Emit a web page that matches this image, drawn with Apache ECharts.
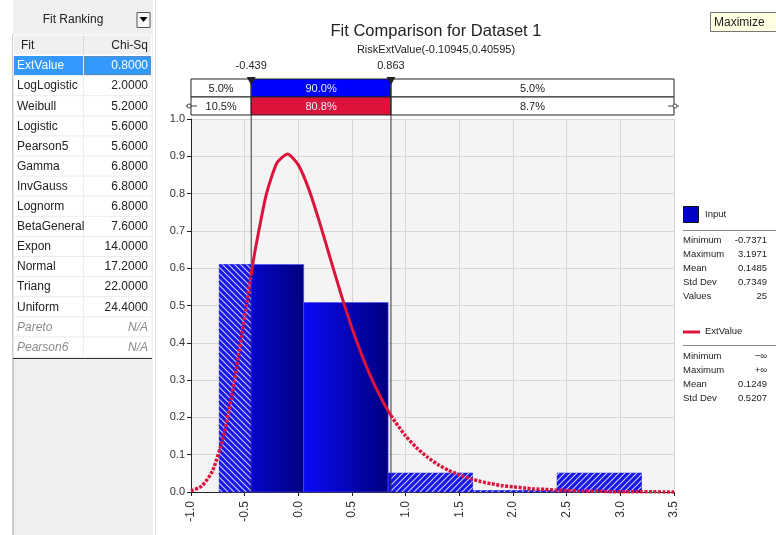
<!DOCTYPE html>
<html>
<head>
<meta charset="utf-8">
<script src="https://cdn.jsdelivr.net/npm/echarts@6/dist/echarts.min.js"></script>
<style>
html,body{margin:0;padding:0;background:#fff;}
#chart{width:776px;height:535px;}
</style>
</head>
<body>
<div id="chart"></div>
<script>
// fit ranking table
var fitNames = ['ExtValue','LogLogistic','Weibull','Logistic','Pearson5','Gamma','InvGauss','Lognorm','BetaGeneral','Expon','Normal','Triang','Uniform','Pareto','Pearson6'];
var fitChiSq = ['0.8000','2.0000','5.2000','5.6000','5.6000','6.8000','6.8000','6.8000','7.6000','14.0000','17.2000','22.0000','24.4000','N/A','N/A'];

// histogram of the input (density)
var binStart = [-0.7371, 0.0497, 0.8365, 1.6233, 2.4101];
var binEnd = [0.0497, 0.8365, 1.6233, 2.4101, 3.1971];
var binDensity = [0.610, 0.508, 0.051, 0.004, 0.051];

// fitted ExtValue curve
var curveX = [-1.0,-0.9,-0.8,-0.7,-0.6,-0.5,-0.439,-0.4,-0.3,-0.2,-0.1,0.0,0.1,0.2,0.3,0.4,0.5,0.6,0.7,0.8,0.863,
  0.9,1.0,1.1,1.2,1.3,1.4,1.5,1.6,1.7,1.8,1.9,2.0,2.1,2.2,2.3,2.4,2.5,2.6,2.7,2.8,2.9,3.0,3.1,3.2,3.3,3.4,3.5];
var curveY = [0.003,0.016,0.056,0.146,0.290,0.471,0.584,0.652,0.796,0.882,0.906,0.877,0.810,0.721,0.624,0.528,0.439,0.361,0.293,0.236,0.205,
  0.189,0.150,0.119,0.094,0.074,0.058,0.046,0.036,0.028,0.022,0.017,0.014,0.011,0.008,0.007,0.005,0.004,0.003,0.002,0.002,0.001,0.001,0.001,0.001,0.001,0.000,0.000];

// delimiters and the percentage band
var leftDelim = -0.439, rightDelim = 0.863;
var xMin = -1.0, xMax = 3.5, xStep = 0.5;
var yMin = 0, yMax = 1.0, yStep = 0.1;
var bandInput = ['5.0%','90.0%','5.0%'];
var bandFit = ['10.5%','80.8%','8.7%'];

// legend statistics
var inputStats = [['Minimum','-0.7371'],['Maximum','3.1971'],['Mean','0.1485'],['Std Dev','0.7349'],['Values','25']];
var fitStats = [['Minimum','\u2212\u221e'],['Maximum','+\u221e'],['Mean','0.1249'],['Std Dev','0.5207']];

var FONT = 'Liberation Sans';
var RED = '#dc143c';

// hatch patterns: "\\" for the left tail, "//" for the right tail
function makeHatch(back){
  var s = 6, c = document.createElement('canvas');
  c.width = s; c.height = s;
  var g = c.getContext('2d');
  g.fillStyle = '#1616e8';
  g.fillRect(0,0,s,s);
  g.strokeStyle = 'rgba(225,225,255,0.9)';
  g.lineWidth = 1.1;
  g.beginPath();
  if(back){
    g.moveTo(-1,-1); g.lineTo(s+1,s+1);
    g.moveTo(-1,s-1); g.lineTo(1,s+1);
    g.moveTo(s-1,-1); g.lineTo(s+1,1);
  }else{
    g.moveTo(-1,s+1); g.lineTo(s+1,-1);
    g.moveTo(-1,1); g.lineTo(1,-1);
    g.moveTo(s-1,s+1); g.lineTo(s+1,s-1);
  }
  g.stroke();
  return c;
}
var hatchBack = makeHatch(true);
var hatchFwd = makeHatch(false);

var binData = binStart.map(function(s, i){ return [s, binEnd[i], binDensity[i]]; });

function renderBin(params, api){
  var x0 = api.value(0), x1 = api.value(1), h = api.value(2);
  var p0 = api.coord([x0, h]), p1 = api.coord([x1, 0]);
  var kids = [{
    type:'rect',
    shape:{x:p0[0], y:p0[1], width:p1[0]-p0[0], height:p1[1]-p0[1]},
    style:{
      fill: new echarts.graphic.LinearGradient(0,0,1,0,[{offset:0,color:'#0a0af6'},{offset:1,color:'#00007e'}]),
      stroke:'#4a4aff', lineWidth:0.6
    }
  }];
  if(x0 < leftDelim){
    var q = api.coord([Math.min(x1, leftDelim), 0]);
    kids.push({type:'rect', shape:{x:p0[0], y:p0[1], width:q[0]-p0[0], height:p1[1]-p0[1]},
      style:{fill:{image:hatchBack, repeat:'repeat'}}});
  }
  if(x1 > rightDelim){
    var r = api.coord([Math.max(x0, rightDelim), 0]);
    kids.push({type:'rect', shape:{x:r[0], y:p0[1], width:p1[0]-r[0], height:p1[1]-p0[1]},
      style:{fill:{image:hatchFwd, repeat:'repeat'}}});
  }
  return {type:'group', children:kids};
}

// percentage band above the plot
var bandEdges = [xMin, leftDelim, rightDelim, xMax];
var bandData = [];
bandInput.forEach(function(t, i){ bandData.push([bandEdges[i], bandEdges[i+1], 0, i, t]); });
bandFit.forEach(function(t, i){ bandData.push([bandEdges[i], bandEdges[i+1], 1, i, t]); });

function renderBand(params, api){
  var x0 = api.coord([api.value(0), 1])[0];
  var x1 = api.coord([api.value(1), 1])[0];
  var top = api.coord([0, yMax])[1];
  var row = api.value(2), col = api.value(3);
  var y0 = row === 0 ? top - 40 : top - 22;
  var fill = '#fff', tcol = '#222';
  if(col === 1){ fill = row === 0 ? '#0000ff' : RED; tcol = '#ececff'; }
  var kids = [{
    type:'rect', shape:{x:x0, y:y0, width:x1-x0, height:18},
    style:{fill:fill, stroke:'#222', lineWidth:1}
  },{
    type:'text', style:{x:(x0+x1)/2, y:y0+9.5, text:bandData[params.dataIndex][4], fill:tcol,
      font:'11px "' + FONT + '"', textAlign:'center', textVerticalAlign:'middle'}
  }];
  if(row === 1 && col === 0){
    kids.push({type:'line', shape:{x1:x0-5, y1:y0+9, x2:x0+6, y2:y0+9}, style:{stroke:'#444', lineWidth:1}});
    kids.push({type:'circle', shape:{cx:x0-2, cy:y0+9, r:2}, style:{fill:'#fff', stroke:'#444', lineWidth:1}});
  }
  if(row === 1 && col === 2){
    kids.push({type:'line', shape:{x1:x1-6, y1:y0+9, x2:x1+5, y2:y0+9}, style:{stroke:'#444', lineWidth:1}});
    kids.push({type:'circle', shape:{cx:x1+1, cy:y0+9, r:2}, style:{fill:'#fff', stroke:'#444', lineWidth:1}});
  }
  return {type:'group', children:kids};
}

function renderDelim(params, api){
  var v = api.value(0);
  var x = api.coord([v, 0])[0];
  var bottom = api.coord([v, yMin])[1];
  var top = api.coord([v, yMax])[1] - 40;
  return {type:'group', children:[
    {type:'line', shape:{x1:x, y1:top, x2:x, y2:bottom}, style:{stroke:'#333', lineWidth:1}},
    {type:'polygon', shape:{points:[[x-4.5,top-2],[x+4.5,top-2],[x,top+6]]}, style:{fill:'#222'}},
    {type:'text', style:{x:x, y:top-13, text:v.toFixed(3), fill:'#222', font:'11px "' + FONT + '"',
      textAlign:'center', textVerticalAlign:'middle'}}
  ]};
}

// split the curve at the delimiters: dotted tails, solid middle
var leftTail = [], middle = [], rightTail = [];
curveX.forEach(function(x, i){
  var p = [x, curveY[i]];
  if(x <= leftDelim) leftTail.push(p);
  if(x >= leftDelim && x <= rightDelim) middle.push(p);
  if(x >= rightDelim) rightTail.push(p);
});

// left panel graphics
var graphics = [];
graphics.push({type:'rect', shape:{x:13, y:0, width:140, height:535}, style:{fill:'#f0f0f0'}, z:0});
graphics.push({type:'line', shape:{x1:13, y1:34, x2:13, y2:535}, style:{stroke:'#a0a0a0', lineWidth:1}});
graphics.push({type:'line', shape:{x1:155.5, y1:0, x2:155.5, y2:535}, style:{stroke:'#e4e4e4', lineWidth:1}});
graphics.push({type:'text', style:{x:73, y:20, text:'Fit Ranking', fill:'#222', font:'12px "' + FONT + '"', textAlign:'center', textVerticalAlign:'middle'}});
graphics.push({type:'rect', shape:{x:137, y:12.5, width:13, height:15}, style:{fill:'#fbfbfb', stroke:'#555', lineWidth:1}});
graphics.push({type:'polygon', shape:{points:[[139.5,17],[147.5,17],[143.5,22]]}, style:{fill:'#000'}});
graphics.push({type:'rect', shape:{x:13.5, y:35, width:138, height:322.5}, style:{fill:'#fff'}});
graphics.push({type:'rect', shape:{x:13.5, y:35, width:138, height:20}, style:{fill:'#f0f0f0', stroke:'#fff', lineWidth:1}});
graphics.push({type:'line', shape:{x1:83.5, y1:36, x2:83.5, y2:55}, style:{stroke:'#d8d8d8', lineWidth:1}});
graphics.push({type:'text', style:{x:21, y:46, text:'Fit', fill:'#222', font:'12px "' + FONT + '"', textVerticalAlign:'middle'}});
graphics.push({type:'text', style:{x:148, y:46, text:'Chi-Sq', fill:'#222', font:'12px "' + FONT + '"', textAlign:'right', textVerticalAlign:'middle'}});
fitNames.forEach(function(name, i){
  var y = 56 + i * 20.1;
  var na = fitChiSq[i] === 'N/A';
  var col = i === 0 ? '#fff' : (na ? '#8a8a8a' : '#222');
  var f = (na ? 'italic ' : '') + '12px "' + FONT + '"';
  if(i === 0){
    graphics.push({type:'rect', shape:{x:14, y:y, width:69, height:19}, style:{fill:'#3399ff'}});
    graphics.push({type:'rect', shape:{x:84.5, y:y+0.5, width:66, height:18}, style:{fill:'#3399ff', stroke:'#1a4a7a', lineWidth:1, lineDash:[1,1]}});
  }
  graphics.push({type:'line', shape:{x1:14, y1:y+19.6, x2:151, y2:y+19.6}, style:{stroke:'#ececec', lineWidth:1}});
  graphics.push({type:'line', shape:{x1:83.5, y1:y, x2:83.5, y2:y+19.6}, style:{stroke:'#ececec', lineWidth:1}});
  graphics.push({type:'text', style:{x:17, y:y+10, text:name, fill:col, font:f, textVerticalAlign:'middle'}});
  graphics.push({type:'text', style:{x:148, y:y+10, text:fitChiSq[i], fill:col, font:f, textAlign:'right', textVerticalAlign:'middle'}});
});
graphics.push({type:'line', shape:{x1:13, y1:358.5, x2:152, y2:358.5}, style:{stroke:'#333', lineWidth:1}});

// right legend
var LF = '9.5px "' + FONT + '"';
graphics.push({type:'rect', shape:{x:683.5, y:206.5, width:15, height:16}, style:{fill:'#0000c8', stroke:'#111', lineWidth:1}});
graphics.push({type:'text', style:{x:705, y:214.5, text:'Input', fill:'#222', font:LF, textVerticalAlign:'middle'}});
graphics.push({type:'line', shape:{x1:683, y1:230.5, x2:776, y2:230.5}, style:{stroke:'#888', lineWidth:1}});
inputStats.forEach(function(s, i){
  var y = 240 + i * 14.2;
  graphics.push({type:'text', style:{x:683, y:y, text:s[0], fill:'#222', font:LF, textVerticalAlign:'middle'}});
  graphics.push({type:'text', style:{x:767, y:y, text:s[1], fill:'#222', font:LF, textAlign:'right', textVerticalAlign:'middle'}});
});
graphics.push({type:'line', shape:{x1:683, y1:332, x2:700, y2:332}, style:{stroke:RED, lineWidth:3}});
graphics.push({type:'text', style:{x:705, y:331.5, text:'ExtValue', fill:'#222', font:LF, textVerticalAlign:'middle'}});
graphics.push({type:'line', shape:{x1:683, y1:345.5, x2:776, y2:345.5}, style:{stroke:'#888', lineWidth:1}});
fitStats.forEach(function(s, i){
  var y = 356 + i * 14.2;
  graphics.push({type:'text', style:{x:683, y:y, text:s[0], fill:'#222', font:LF, textVerticalAlign:'middle'}});
  graphics.push({type:'text', style:{x:767, y:y, text:s[1], fill:'#222', font:LF, textAlign:'right', textVerticalAlign:'middle'}});
});

// tooltip box in the corner
graphics.push({type:'rect', shape:{x:710.5, y:12.5, width:80, height:19}, style:{fill:'#ffffe1', stroke:'#767676', lineWidth:1}});
graphics.push({type:'text', style:{x:714, y:22.5, text:'Maximize', fill:'#222', font:'12px "' + FONT + '"', textVerticalAlign:'middle'}});

var myChart = echarts.init(document.getElementById('chart'));
var option = {
  backgroundColor:'#fff',
  animation:false,
  title:{
    text:'Fit Comparison for Dataset 1',
    subtext:'RiskExtValue(-0.10945,0.40595)',
    left:431, top:18, textAlign:'center', itemGap:4,
    textStyle:{fontFamily:FONT, fontSize:16.5, fontWeight:'normal', color:'#222'},
    subtextStyle:{fontFamily:FONT, fontSize:11, color:'#222'}
  },
  grid:{left:191, top:119, width:483, height:373, show:true, backgroundColor:'#f4f4f4', borderWidth:0},
  xAxis:{
    type:'value', min:xMin, max:xMax, interval:xStep,
    axisLine:{show:true, onZero:false, lineStyle:{color:'#222'}},
    axisTick:{show:true, length:4, lineStyle:{color:'#222'}},
    axisLabel:{rotate:90, margin:9, color:'#333', fontFamily:FONT, fontSize:12,
      formatter:function(v){ return v.toFixed(1); }},
    splitLine:{show:true, lineStyle:{color:'#d8d8d8'}}
  },
  yAxis:{
    type:'value', min:yMin, max:yMax, interval:yStep,
    axisLine:{show:true, onZero:false, lineStyle:{color:'#222'}},
    axisTick:{show:true, length:4, lineStyle:{color:'#222'}},
    axisLabel:{margin:6, color:'#333', fontFamily:FONT, fontSize:11,
      formatter:function(v){ return v.toFixed(1); }},
    splitLine:{show:true, lineStyle:{color:'#d8d8d8'}}
  },
  series:[
    {type:'custom', name:'Input', renderItem:renderBin, data:binData, encode:{x:[0,1], y:2}, z:2, clip:false},
    {type:'custom', name:'band', renderItem:renderBand, data:bandData, encode:{x:[0,1]}, z:3, clip:false},
    {type:'custom', name:'delim', renderItem:renderDelim, data:[[leftDelim],[rightDelim]], encode:{x:0}, z:4, clip:false},
    {type:'line', name:'ExtValue', data:leftTail, showSymbol:false, smooth:0.2, z:5,
      lineStyle:{color:RED, width:3.5, type:[3,1.5]}},
    {type:'line', name:'ExtValue', data:middle, showSymbol:false, smooth:0.2, z:5,
      lineStyle:{color:RED, width:3}},
    {type:'line', name:'ExtValue', data:rightTail, showSymbol:false, smooth:0.2, z:5,
      lineStyle:{color:RED, width:3.5, type:[3,1.5]}}
  ],
  graphic:graphics
};
myChart.setOption(option);
</script>
</body>
</html>
